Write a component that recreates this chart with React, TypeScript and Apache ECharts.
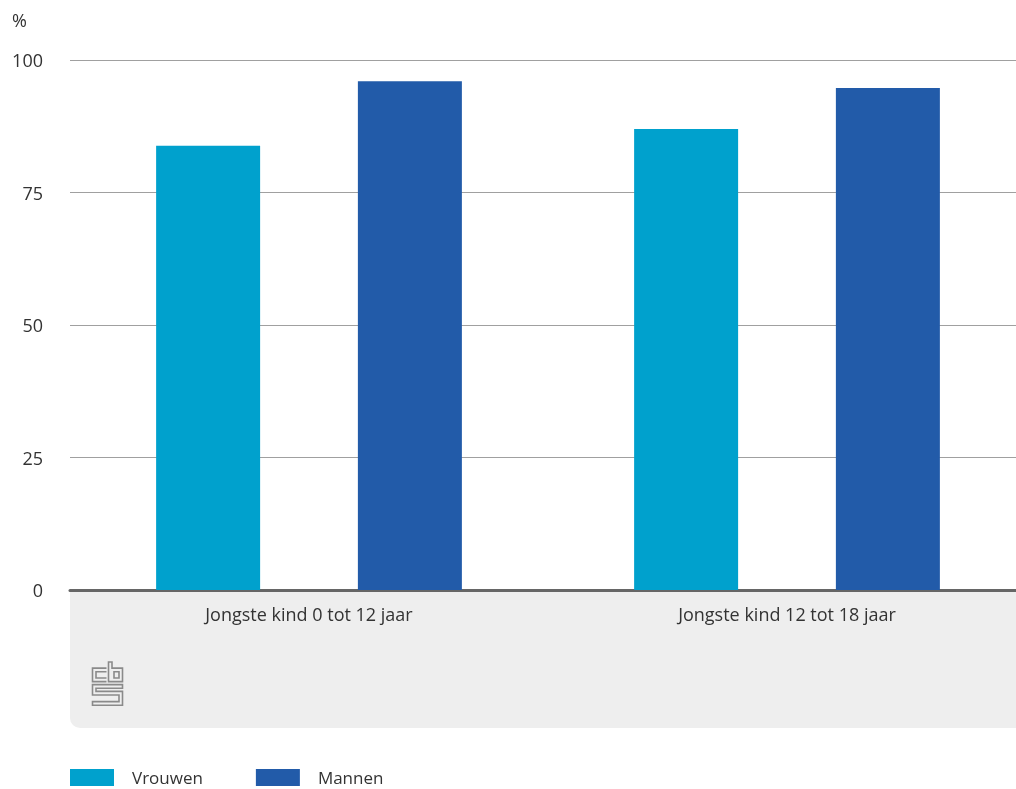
import React, { useEffect, useRef } from "react";
import * as echarts from "echarts";

const categories = ["Jongste kind 0 tot 12 jaar", "Jongste kind 12 tot 18 jaar"];
const vrouwen = [83.8, 87.0];
const mannen = [96.0, 94.7];
const yTicks = { min: 0, max: 100, interval: 25 };

const logoD =
  "M15 6 H1 V19 H15 M15 9.5 H4.5 V15.5 H15 " +
  "M17 0 H20.5 V6 H31 V19 H17 Z M22.5 9.5 H27.5 V15.5 H22.5 Z " +
  "M31 22 H1 V32 H27.5 V38.5 H1 V42 H31 V28.5 H4.5 V25.5 H31 Z";

let registered = false;

export default function App() {
  const ref = useRef<HTMLDivElement>(null);
  useEffect(() => {
    if (!registered) {
      echarts.graphic.registerShape("logo", echarts.graphic.extendPath(logoD, {}) as any);
      registered = true;
    }
    const chart = echarts.init(ref.current!, null, { renderer: "svg" });
    const font = "'Open Sans', 'Noto Sans', sans-serif";
    chart.setOption({
      animation: false,
      textStyle: { fontFamily: font },
      grid: {
        left: 70,
        width: 956,
        top: 60,
        bottom: 199,
        containLabel: false,
        outerBoundsMode: "none",
      },
      legend: {
        left: 70,
        top: 769,
        padding: 0,
        itemWidth: 44,
        itemHeight: 17,
        itemGap: 53,
        icon: "rect",
        textStyle: {
          fontSize: 17,
          lineHeight: 16,
          color: "#333",
          fontFamily: font,
          padding: [0, 0, 0, 13],
        },
        data: ["Vrouwen", "Mannen"],
      },
      graphic: [
        {
          type: "rect",
          z: -10,
          shape: { x: 70, y: 591, width: 946, height: 137, r: [0, 0, 0, 10] },
          style: { fill: "#eeeeee" },
        },
        {
          type: "text",
          left: 12,
          top: 11,
          style: { text: "%", fontSize: 18, fill: "#333", fontFamily: font },
        },
        {
          type: "logo",
          x: 91.5,
          y: 662,
          scaleX: 1,
          scaleY: 1.03,
          style: { fill: "none", stroke: "#8a8a8a", lineWidth: 1.6 },
        },
      ],
      xAxis: {
        type: "category",
        data: categories,
        axisLine: { show: true, lineStyle: { color: "#666", width: 3 } },
        axisTick: { show: false },
        axisLabel: { color: "#333", fontSize: 18, margin: 15, fontFamily: font },
      },
      yAxis: {
        type: "value",
        min: yTicks.min,
        max: yTicks.max,
        interval: yTicks.interval,
        axisLine: { show: false },
        axisTick: { show: false },
        axisLabel: { color: "#333", fontSize: 18, margin: 27, fontFamily: font },
        splitLine: { lineStyle: { color: "#a0a0a0", width: 1 } },
      },
      series: [
        {
          name: "Vrouwen",
          type: "bar",
          data: vrouwen,
          barWidth: 104,
          barGap: "94%",
          itemStyle: { color: "#00a1cd" },
        },
        {
          name: "Mannen",
          type: "bar",
          data: mannen,
          barWidth: 104,
          itemStyle: { color: "#225ba9" },
        },
      ],
    });
    return () => chart.dispose();
  }, []);
  return (
    <div
      ref={ref}
      style={{ position: "fixed", left: 0, top: 0, width: 1016, height: 789 }}
    />
  );
}
